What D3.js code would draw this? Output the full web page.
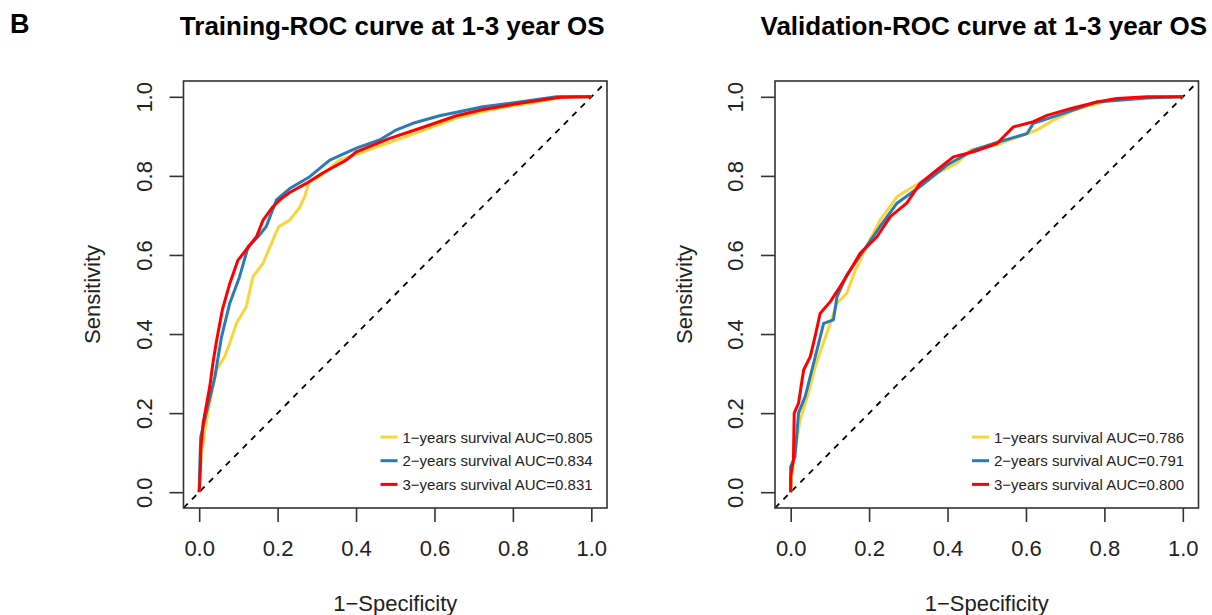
<!DOCTYPE html>
<html>
<head>
<meta charset="utf-8">
<script src="https://cdn.jsdelivr.net/npm/d3@7"></script>
<style>
  body { margin: 0; background: #fff; }
  text { font-family: "Liberation Sans", Arial, sans-serif; }
</style>
</head>
<body>
<svg id="chart" width="1212" height="615"></svg>
<script>
// series colours / labels
const SERIES = ["1-years", "2-years", "3-years"];
const COLOURS = ["#F9D43A", "#2A7AB5", "#FF0000"];
const TICKS = [0, 0.2, 0.4, 0.6, 0.8, 1.0];

// training set curves: [fpr, tpr]
const TRAIN_1Y = [[0,0],[0.002,0.05],[0.006,0.099],[0.015,0.16],[0.027,0.225],[0.044,0.309],[0.065,0.343],[0.078,0.377],
  [0.095,0.427],[0.12,0.469],[0.137,0.545],[0.163,0.579],[0.188,0.638],[0.203,0.672],[0.231,0.688],[0.256,0.72],
  [0.27,0.75],[0.28,0.785],[0.31,0.8],[0.358,0.84],[0.443,0.87],[0.5,0.89],[0.563,0.912],[0.656,0.946],[0.72,0.962],
  [0.784,0.975],[0.85,0.985],[0.911,0.996],[0.95,1],[1,1]];
const TRAIN_2Y = [[0,0],[0.002,0.08],[0.004,0.14],[0.018,0.2],[0.04,0.292],[0.057,0.393],[0.078,0.478],[0.103,0.545],
  [0.125,0.621],[0.15,0.646],[0.171,0.672],[0.197,0.739],[0.231,0.768],[0.282,0.798],[0.333,0.84],[0.401,0.87],
  [0.46,0.891],[0.5,0.915],[0.545,0.933],[0.613,0.952],[0.724,0.975],[0.826,0.988],[0.911,1],[1,1]];
const TRAIN_3Y = [[0,0],[0.003,0.06],[0.004,0.107],[0.01,0.174],[0.027,0.267],[0.035,0.326],[0.044,0.381],[0.059,0.461],
  [0.078,0.528],[0.099,0.587],[0.116,0.608],[0.146,0.646],[0.163,0.688],[0.188,0.722],[0.21,0.743],[0.231,0.758],
  [0.273,0.781],[0.316,0.808],[0.375,0.84],[0.401,0.861],[0.443,0.878],[0.486,0.895],[0.571,0.923],[0.656,0.952],
  [0.724,0.968],[0.826,0.985],[0.92,0.999],[1,1]];

// validation set curves: [fpr, tpr]
const VALID_1Y = [[0,0],[0.004,0.05],[0.009,0.09],[0.024,0.183],[0.045,0.25],[0.063,0.318],[0.08,0.368],[0.101,0.427],
  [0.118,0.478],[0.143,0.503],[0.165,0.562],[0.202,0.638],[0.228,0.688],[0.271,0.747],[0.305,0.768],[0.356,0.798],
  [0.424,0.832],[0.458,0.865],[0.534,0.882],[0.628,0.916],[0.67,0.941],[0.722,0.966],[0.807,0.99],[0.91,0.999],[1,1]];
const VALID_2Y = [[0,0],[0,0.065],[0.011,0.09],[0.02,0.2],[0.037,0.242],[0.054,0.309],[0.067,0.359],[0.084,0.427],
  [0.109,0.436],[0.118,0.494],[0.143,0.549],[0.185,0.61],[0.228,0.672],[0.271,0.731],[0.33,0.773],[0.398,0.827],
  [0.466,0.865],[0.534,0.887],[0.603,0.907],[0.619,0.933],[0.696,0.958],[0.781,0.987],[0.909,0.997],[1,1]];
const VALID_3Y = [[0,0],[0,0.04],[0.007,0.082],[0.009,0.2],[0.02,0.225],[0.033,0.309],[0.05,0.343],[0.063,0.397],
  [0.075,0.452],[0.101,0.482],[0.126,0.52],[0.152,0.562],[0.177,0.604],[0.22,0.646],[0.254,0.697],[0.296,0.731],
  [0.33,0.781],[0.373,0.815],[0.415,0.848],[0.466,0.861],[0.526,0.882],[0.568,0.924],[0.619,0.937],[0.654,0.953],
  [0.713,0.97],[0.781,0.987],[0.832,0.996],[0.909,1],[1,1]];

const TRAIN_AUC = ["0.805", "0.834", "0.831"];
const VALID_AUC = ["0.786", "0.791", "0.800"];

const PANELS = [
  { title: "Training-ROC curve at 1-3 year OS", left: 183.5, curves: [TRAIN_1Y, TRAIN_2Y, TRAIN_3Y], auc: TRAIN_AUC },
  { title: "Validation-ROC curve at 1-3 year OS", left: 775, curves: [VALID_1Y, VALID_2Y, VALID_3Y], auc: VALID_AUC }
];

const BOX_W = 423.5;
const TOP = 81;
const BOTTOM = 508;

const svg = d3.select("#chart");

svg.append("text")
  .attr("x", 10).attr("y", 33)
  .attr("font-size", "27px").attr("font-weight", "bold")
  .text("B");

function drawPanel(p, idx) {
  // R style: 4% padding on each side
  let x = d3.scaleLinear().domain([-0.04, 1.04]).range([p.left, p.left + BOX_W]);
  let y = d3.scaleLinear().domain([-0.04, 1.04]).range([BOTTOM, TOP]);
  let g = svg.append("g");
  let cx = p.left + BOX_W / 2;

  g.append("text")
    .attr("x", cx - 3).attr("y", 35)
    .attr("text-anchor", "middle")
    .attr("font-size", "26px").attr("font-weight", "bold")
    .text(p.title);

  g.append("clipPath").attr("id", "clip" + idx)
    .append("rect")
    .attr("x", p.left).attr("y", TOP)
    .attr("width", BOX_W).attr("height", BOTTOM - TOP);

  let plot = g.append("g").attr("clip-path", "url(#clip" + idx + ")");

  // diagonal reference
  plot.append("line")
    .attr("x1", x(-0.04)).attr("y1", y(-0.04))
    .attr("x2", x(1.04)).attr("y2", y(1.04))
    .attr("stroke", "#000").attr("stroke-width", 1.8)
    .attr("stroke-dasharray", "6,6");

  let line = d3.line()
    .x(function (d) { return x(d[0]); })
    .y(function (d) { return y(d[1]); });

  p.curves.forEach(function (c, i) {
    plot.append("path")
      .datum(c)
      .attr("d", line)
      .attr("fill", "none")
      .attr("stroke", COLOURS[i])
      .attr("stroke-width", 3)
      .attr("stroke-linejoin", "round");
  });

  // box
  g.append("rect")
    .attr("x", p.left).attr("y", TOP)
    .attr("width", BOX_W).attr("height", BOTTOM - TOP)
    .attr("fill", "none").attr("stroke", "#333").attr("stroke-width", 1.6);

  // x axis
  let xAxis = g.append("g")
    .attr("transform", "translate(0," + BOTTOM + ")")
    .call(d3.axisBottom(x).tickValues(TICKS).tickFormat(d3.format(".1f")).tickSize(14).tickPadding(18));
  xAxis.select(".domain").attr("stroke", "none");
  xAxis.selectAll(".tick line").attr("stroke", "#333").attr("stroke-width", 1.6);
  xAxis.selectAll(".tick text")
    .attr("font-size", "22px").attr("fill", "#222")
    .attr("font-family", "Liberation Sans, Arial, sans-serif");

  // y axis (labels rotated like R's default las=0)
  let yAxis = g.append("g")
    .attr("transform", "translate(" + p.left + ",0)")
    .call(d3.axisLeft(y).tickValues(TICKS).tickFormat(d3.format(".1f")).tickSize(14));
  yAxis.select(".domain").attr("stroke", "none");
  yAxis.selectAll(".tick line").attr("stroke", "#333").attr("stroke-width", 1.6);
  yAxis.selectAll(".tick text")
    .attr("x", null).attr("dy", null)
    .attr("transform", "translate(-39.5,0) rotate(-90)")
    .attr("text-anchor", "middle")
    .attr("dominant-baseline", "central")
    .attr("font-size", "22px").attr("fill", "#222")
    .attr("font-family", "Liberation Sans, Arial, sans-serif");

  g.append("text")
    .attr("x", cx).attr("y", 611)
    .attr("text-anchor", "middle")
    .attr("font-size", "22px").attr("fill", "#222")
    .text("1\u2212Specificity");

  g.append("text")
    .attr("transform", "translate(" + (p.left - 83.5) + "," + ((TOP + BOTTOM) / 2) + ") rotate(-90)")
    .attr("text-anchor", "middle")
    .attr("font-size", "22px").attr("fill", "#222")
    .text("Sensitivity");

  // legend
  let lx = p.left + 197;
  SERIES.forEach(function (s, i) {
    let ly = 437 + i * 23.7;
    g.append("line")
      .attr("x1", lx).attr("x2", lx + 17)
      .attr("y1", ly).attr("y2", ly)
      .attr("stroke", COLOURS[i]).attr("stroke-width", 3);
    g.append("text")
      .attr("x", lx + 22).attr("y", ly)
      .attr("dominant-baseline", "central")
      .attr("font-size", "15px").attr("fill", "#222")
      .text(s.replace("-", "\u2212") + " survival AUC=" + p.auc[i]);
  });
}

PANELS.forEach(drawPanel);
</script>
</body>
</html>
